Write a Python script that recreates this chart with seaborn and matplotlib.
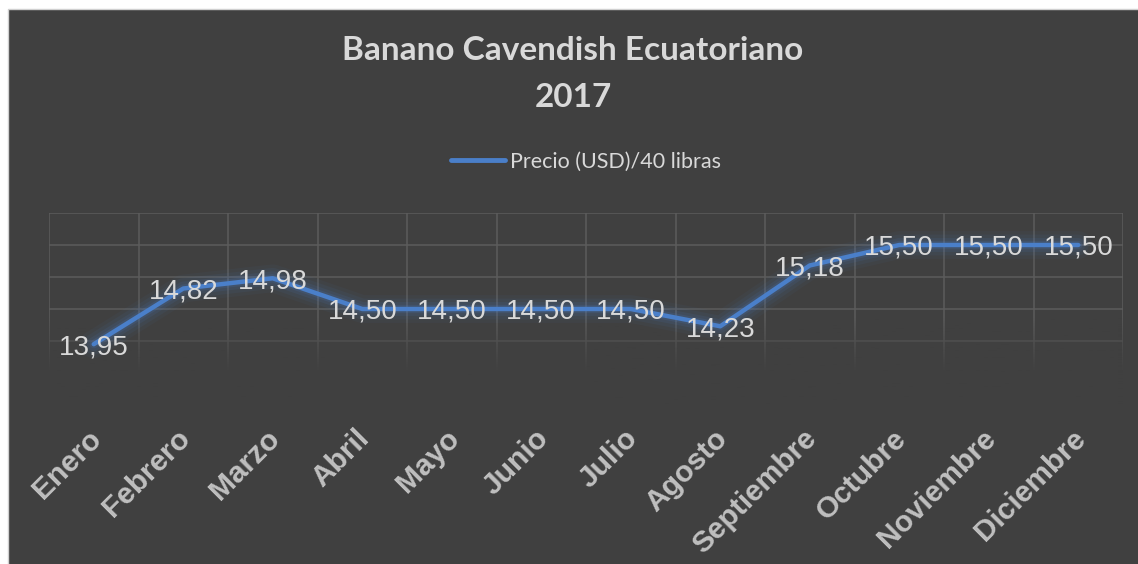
import numpy as np
import pandas as pd
import seaborn as sns
import matplotlib
import matplotlib.pyplot as plt
import matplotlib.patheffects as pe
import matplotlib.transforms as mtransforms
from matplotlib.patches import Rectangle

matplotlib.use("Agg")

# data
meses = ['Enero', 'Febrero', 'Marzo', 'Abril', 'Mayo', 'Junio', 'Julio',
         'Agosto', 'Septiembre', 'Octubre', 'Noviembre', 'Diciembre']
precio = [13.95, 14.82, 14.98, 14.50, 14.50, 14.50, 14.50,
          14.23, 15.18, 15.50, 15.50, 15.50]
serie = 'Precio (USD)/40 libras'
titulo = 'Banano Cavendish Ecuatoriano\n2017'

bg = '#404040'
azul = '#4a7fc9'
texto = '#d9d9d9'

sns.set_theme(style='dark')
df = pd.DataFrame({'mes': meses, serie: precio})

fig = plt.figure(figsize=(11.38, 5.64), dpi=100, facecolor='white')
# dark chart area with thin light border
fig.add_artist(Rectangle((8 / 1138, -0.01), 1.0, 1 - 9 / 564 + 0.01,
                         transform=fig.transFigure, facecolor=bg,
                         edgecolor='#d0d0d0', linewidth=1, zorder=-5))

ax = fig.add_axes([49 / 1138, 1 - 405 / 564, (1123 - 49) / 1138, 192 / 564])
ax.set_facecolor(bg)
ax.patch.set_alpha(0)

sns.lineplot(data=df, x='mes', y=serie, ax=ax, color=azul, linewidth=3.2,
             label=serie, zorder=3, sort=False)
line = ax.lines[0]
line.set_path_effects([pe.Stroke(linewidth=20, foreground=azul, alpha=0.05),
                       pe.Stroke(linewidth=15, foreground=azul, alpha=0.07),
                       pe.Stroke(linewidth=10, foreground=azul, alpha=0.10),
                       pe.Stroke(linewidth=6, foreground=azul, alpha=0.15),
                       pe.Normal()])

ax.set_xlim(-0.5, len(meses) - 0.5)
ax.set_ylim(13.0, 16.0)
ax.grid(False)
for y in np.arange(14.0, 16.01, 0.5):
    ax.axhline(y, color='#5c5c5c', linewidth=1.1, zorder=0.5)
for x in np.arange(-0.5, len(meses), 1.0):
    ax.axvline(x, color='#5c5c5c', linewidth=1.1, zorder=0.5)

# gridlines fade out toward the bottom
fade = np.ones((64, 1, 4))
fade[:, :, :3] = matplotlib.colors.to_rgb(bg)
fade[:, 0, 3] = np.clip(np.linspace(1.6, -0.1, 64), 0, 1)
ax.imshow(fade, extent=(-0.5, len(meses) - 0.5, 13.0, 14.45), aspect='auto',
          origin='lower', zorder=1)
ax.set_xlim(-0.5, len(meses) - 0.5)
ax.set_ylim(13.0, 16.0)

for i, v in enumerate(precio):
    ax.text(i, v, f'{v:.2f}'.replace('.', ','), ha='center', va='center_baseline',
            color=texto, fontsize=20, family='Liberation Sans', zorder=5)

ax.set_yticks([])
ax.set_xlabel('')
ax.set_ylabel('')
ax.tick_params(axis='both', length=0)
ax.set_xticks(range(len(meses)))
ax.set_xticklabels(meses, rotation=45, ha='right', rotation_mode='anchor',
                   color='#bfbfbf', fontsize=21.5, fontweight='bold',
                   family='Liberation Sans')
ax.tick_params(axis='x', pad=14)
shift = mtransforms.ScaledTranslation(-7 / 100, 0, fig.dpi_scale_trans)
for lbl in ax.get_xticklabels():
    lbl.set_transform(lbl.get_transform() + shift)
for s in ax.spines.values():
    s.set_visible(False)

leg = ax.legend(loc='center', bbox_to_anchor=(586 / 1138, 1 - 162 / 564),
                bbox_transform=fig.transFigure, frameon=False,
                handlelength=2.5, handletextpad=0.25, prop={'family': 'Lato', 'size': 15.5})
for t in leg.get_texts():
    t.set_color(texto)
for h in leg.get_lines():
    h.set_linewidth(3.5)
    h.set_path_effects([])

fig.text(573 / 1138, 1 - 74 / 564, titulo, ha='center', va='center',
         fontsize=24, fontweight='bold', color=texto, family='Lato',
         linespacing=1.75)

fig.savefig('out.png', dpi=100, facecolor='white')
